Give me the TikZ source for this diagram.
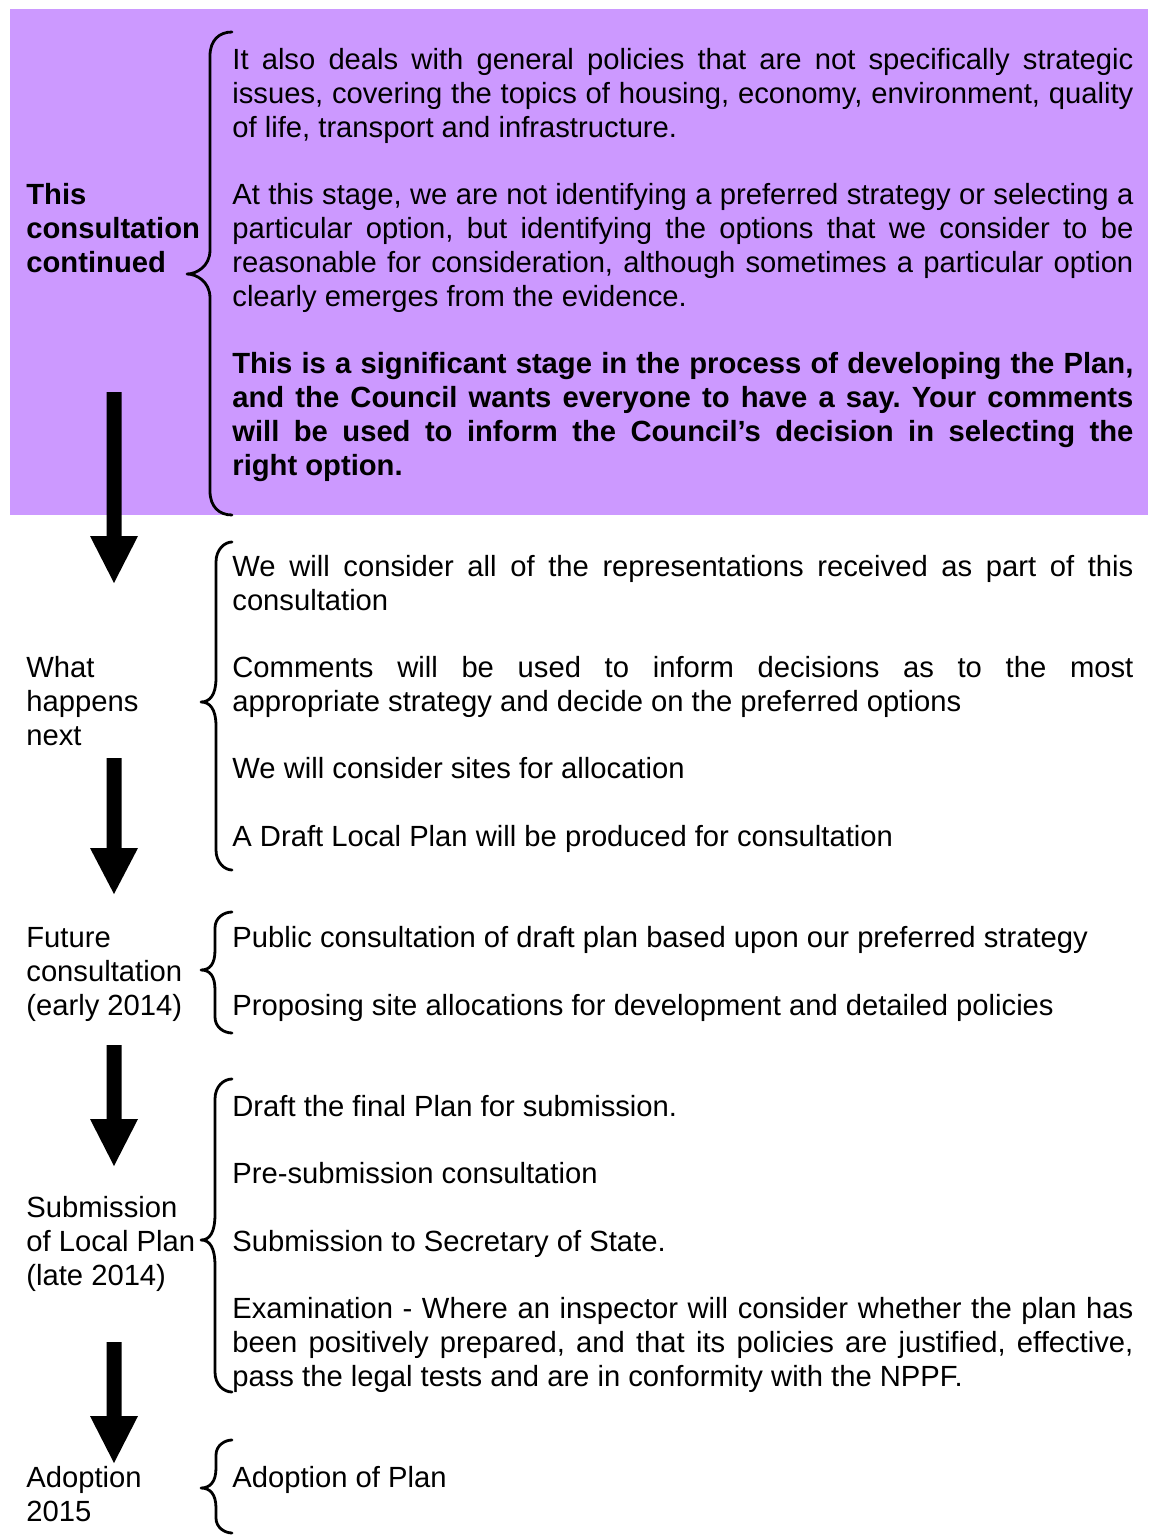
\documentclass[tikz,border=0pt]{standalone}
\usepackage{fontspec}
\setmainfont{Liberation Sans}
\frenchspacing
\definecolor{lilac}{HTML}{CC99FF}
\newlength\tw
\setlength\tw{450.5pt}
\newcommand\bodyfont{\fontsize{14.6pt}{16.875pt}\selectfont\frenchspacing}
\tikzset{
  txt/.style={anchor=base west, inner sep=0pt, font=\bodyfont},
  bracestroke/.style={line width=1.4pt, line cap=round, line join=round},
  blockarrow/.style={fill=black}
}
% justified line, plain line, left label
\newcommand\jl[3]{\node[txt] (#1) at (232,{70+33.75*(#2)}) {\makebox[\tw][s]{#3}};}
\newcommand\pl[3]{\node[txt] (#1) at (232,{70+33.75*(#2)}) {#3};}
\newcommand\lb[3]{\node[txt] (#1) at (26,{70+33.75*(#2)}) {#3};}
% curly brace: #1 xv, #2 xtip, #3 ytop, #4 ytip, #5 ybot, #6 r, #7 r2
\newcommand\cbr[7]{%
\draw[bracestroke] (232,#3) .. controls ({#1+9},#3) and (#1,{#3+0.35*#6}) .. (#1,{#3+#6})
 -- (#1,{#4-#7}) .. controls (#1,{#4-0.3*#7}) and ({#2+9},#4) .. (#2,#4)
 .. controls ({#2+9},#4) and (#1,{#4+0.3*#7}) .. (#1,{#4+#7})
 -- (#1,{#5-#6}) .. controls (#1,{#5-0.35*#6}) and ({#1+9},#5) .. (232,#5);}
% block arrow: #1 top, #2 head top, #3 tip
\newcommand\barr[3]{%
\fill[blockarrow] (106.5,#1) -- (121.5,#1) -- (121.5,#2) -- (138,#2) -- (114,#3) -- (90,#2) -- (106.5,#2) -- cycle;}
\begin{document}
\begin{tikzpicture}[x=0.5pt,y=-0.5pt]
\useasboundingbox (0,0) rectangle (1148,1535);
\fill[lilac] (10,9) rectangle (1148,515);

% ---- block 1
\jl{a0}{0}{It also deals with general policies that are not specifically strategic}
\jl{a1}{1}{issues, covering the topics of housing, economy, environment, quality}
\pl{a2}{2}{of life, transport and infrastructure.}
\jl{a4}{4}{At this stage, we are not identifying a preferred strategy or selecting a}
\jl{a5}{5}{particular option, but identifying the options that we consider to be}
\jl{a6}{6}{reasonable for consideration, although sometimes a particular option}
\pl{a7}{7}{clearly emerges from the evidence.}
\jl{a9}{9}{\bfseries This is a significant stage in the process of developing the Plan,}
\jl{a10}{10}{\bfseries and the Council wants everyone to have a say. Your comments}
\jl{a11}{11}{\bfseries will be used to inform the Council’s decision in selecting the}
\pl{a12}{12}{\bfseries right option.}
\lb{la}{4}{\bfseries This}
\lb{lb}{5}{\bfseries consultation}
\lb{lc}{6}{\bfseries continued}

% ---- block 2
\jl{b15}{15}{We will consider all of the representations received as part of this}
\pl{b16}{16}{consultation}
\jl{b18}{18}{Comments will be used to inform decisions as to the most}
\pl{b19}{19}{appropriate strategy and decide on the preferred options}
\pl{b21}{21}{We will consider sites for allocation}
\pl{b23}{23}{A Draft Local Plan will be produced for consultation}
\lb{ld}{18}{What}
\lb{le}{19}{happens}
\lb{lf}{20}{next}

% ---- block 3
\pl{c26}{26}{Public consultation of draft plan based upon our preferred strategy}
\pl{c28}{28}{Proposing site allocations for development and detailed policies}
\lb{lg}{26}{Future}
\lb{lh}{27}{consultation}
\lb{li}{28}{(early 2014)}

% ---- block 4
\pl{d31}{31}{Draft the final Plan for submission.}
\pl{d33}{33}{Pre-submission consultation}
\pl{d35}{35}{Submission to Secretary of State.}
\jl{d37}{37}{Examination - Where an inspector will consider whether the plan has}
\jl{d38}{38}{been positively prepared, and that its policies are justified, effective,}
\pl{d39}{39}{pass the legal tests and are in conformity with the NPPF.}
\lb{lj}{34}{Submission}
\lb{lk}{35}{of Local Plan}
\lb{ll}{36}{(late 2014)}

% ---- block 5
\pl{e42}{42}{Adoption of Plan}
\lb{lm}{42}{Adoption}
\lb{ln}{43}{2015}

% ---- braces
\cbr{210}{187}{32}{274}{515}{24}{24}
\cbr{216}{201}{542}{702}{870}{20}{24}
\cbr{215}{201}{912}{970}{1033}{16}{20}
\cbr{215}{201}{1079}{1240}{1392}{20}{26}
\cbr{216}{201}{1440}{1488}{1533}{15}{20}

% ---- block arrows
\barr{392}{536}{583}
\barr{758}{848}{894}
\barr{1045}{1119}{1166}
\barr{1342}{1416}{1463}
\end{tikzpicture}
\end{document}
